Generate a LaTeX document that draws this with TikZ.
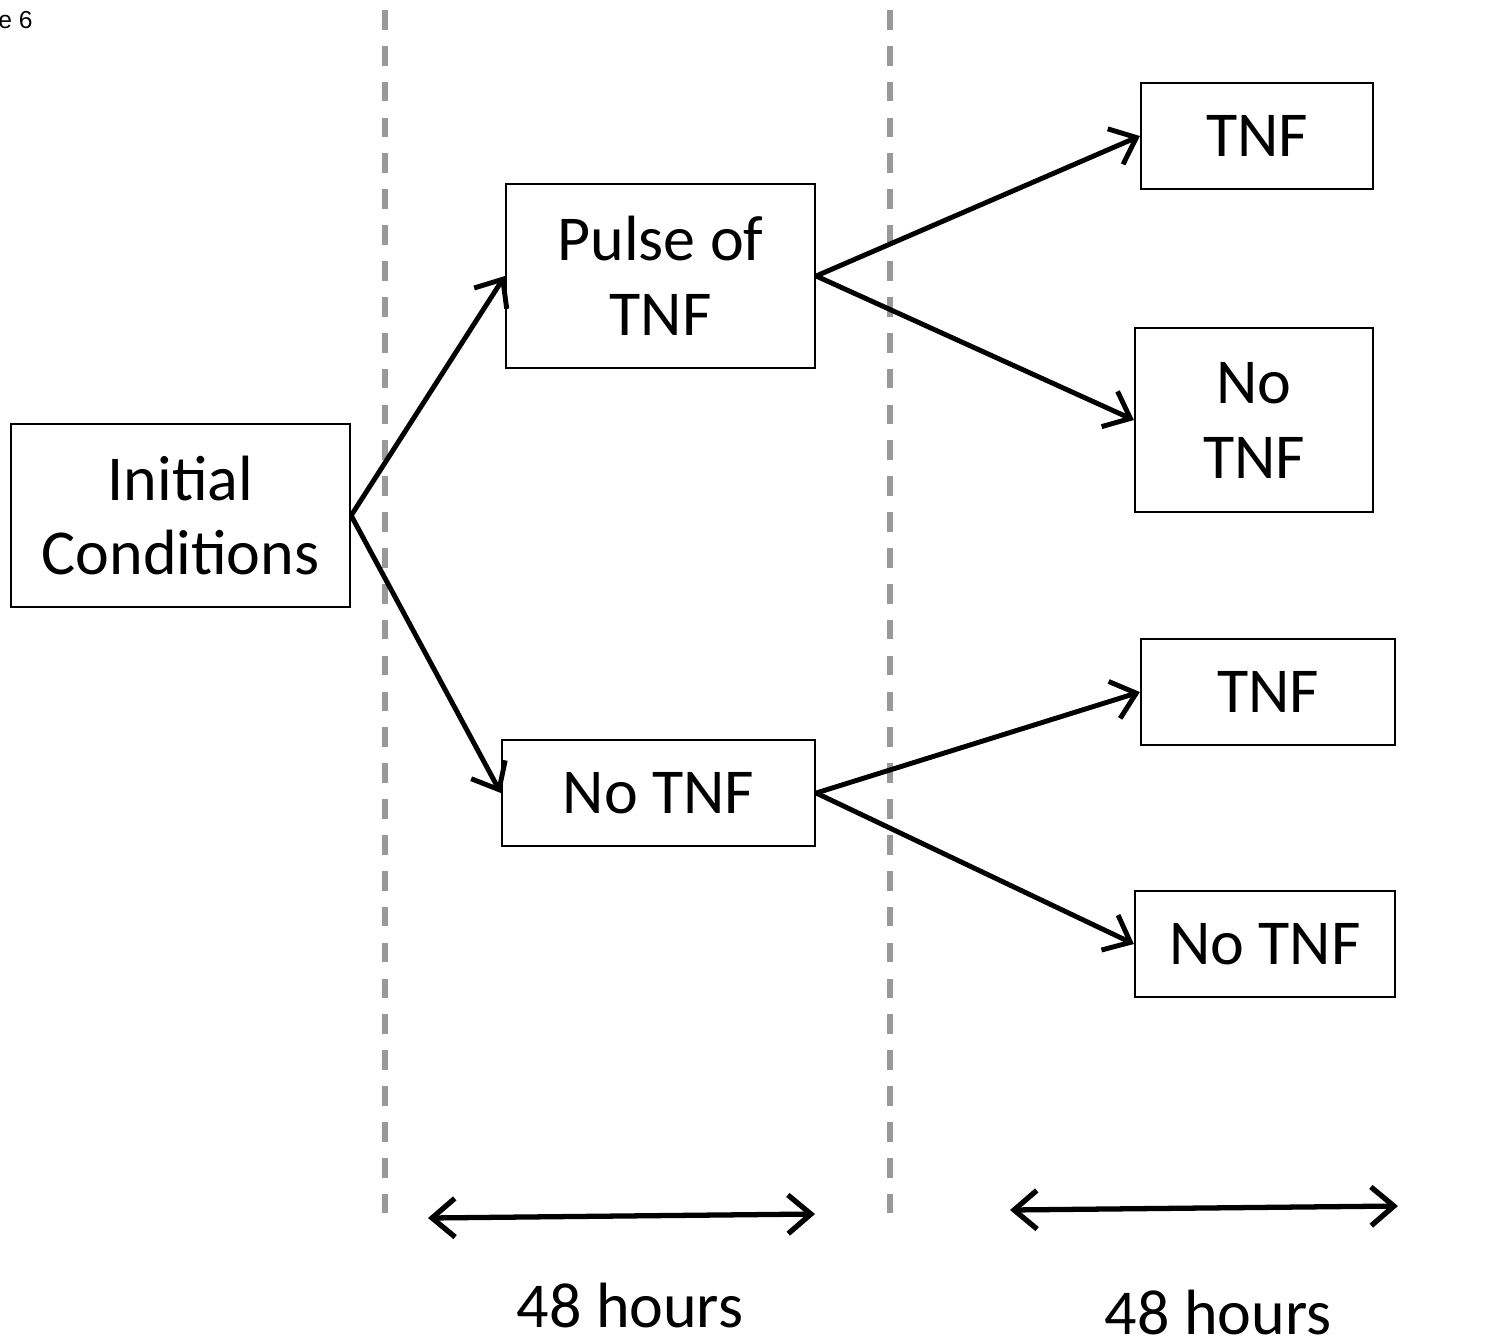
\documentclass[tikz,border=0pt]{standalone}
\usepackage{fontspec}
\setmainfont{Carlito}
\newfontfamily\capfont{Liberation Sans}
\usetikzlibrary{arrows.meta}

\begin{document}
\begin{tikzpicture}[x=0.01cm,y=-0.01cm,
  stage/.style={draw, line width=0.6pt, align=center, inner sep=0pt,
    font=\fontsize{18.2}{21.3}\selectfont},
  flow/.style={-{Straight Barb[length=6.5pt,width=11pt]}, line width=1.4pt},
  span/.style={{Straight Barb[length=6.5pt,width=11pt]}-{Straight Barb[length=6.5pt,width=11pt]}, line width=1.5pt},
  divider/.style={gray!80, line width=1.5pt, dash pattern=on 5.6pt off 4.6pt}]
\useasboundingbox (0,0) rectangle (1490,1338);

\node[font=\capfont\fontsize{7}{8}\selectfont, anchor=west] (fig) at (-14,20) {e 6};

% time dividers
\draw[divider] (385,10) -- (385,1215);
\draw[divider] (890,10) -- (890,1215);

\node[stage, minimum width=3.39cm, minimum height=1.83cm] (init) at (180.5,515.5) {Initial\\Conditions};
\node[stage, minimum width=3.09cm, minimum height=1.84cm] (pulse) at (660.5,276) {Pulse of\\TNF};
\node[stage, minimum width=3.13cm, minimum height=1.06cm] (none) at (658.5,793) {No TNF};

\node[stage, minimum width=2.32cm, minimum height=1.06cm] (pt) at (1257,136) {TNF};
\node[stage, minimum width=2.38cm, minimum height=1.84cm] (pn) at (1254,420) {No\\TNF};
\node[stage, minimum width=2.54cm, minimum height=1.06cm] (nt) at (1268,692) {TNF};
\node[stage, minimum width=2.60cm, minimum height=1.06cm] (nn) at (1265,944) {No TNF};

\draw[flow] (init.east) -- (pulse.west);
\draw[flow] (init.east) -- (none.west);
\draw[flow] (pulse.east) -- (pt.west);
\draw[flow] (pulse.east) -- (pn.west);
\draw[flow] (none.east) -- (nt.west);
\draw[flow] (none.east) -- (nn.west);

% durations
\coordinate (s1a) at (428,1218);
\coordinate (s1b) at (815,1214);
\coordinate (s2a) at (1010,1210);
\coordinate (s2b) at (1398,1206);
\draw[span] (s1a) -- (s1b);
\draw[span] (s2a) -- (s2b);
\node[font=\fontsize{18.2}{21}\selectfont] (h1) at (630,1305) {48 hours};
\node[font=\fontsize{18.2}{21}\selectfont] (h2) at (1218,1312) {48 hours};
\end{tikzpicture}
\end{document}
